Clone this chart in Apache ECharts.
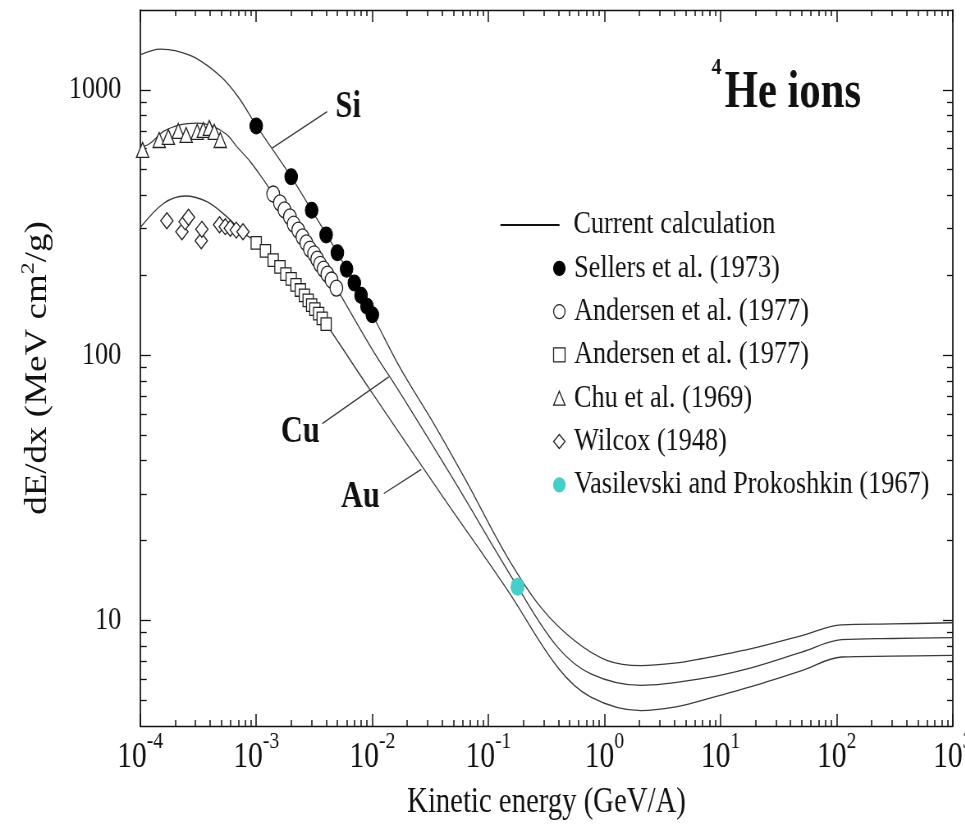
<!DOCTYPE html>
<html>
<head>
<meta charset="utf-8">
<script src="https://cdn.jsdelivr.net/npm/echarts@6/dist/echarts.min.js"></script>
<style>
  html, body { margin: 0; padding: 0; background: #fff; }
  #frame { width: 965px; height: 827px; overflow: hidden; position: relative; background: #fff; }
  #chart { position: absolute; left: 0; top: 0; height: 827px; transform-origin: 0 0; }
</style>
</head>
<body>
<div id="frame"><div id="chart"></div></div>
<script>
// ---------- axis ticks ----------
const xMajorTicks = [1e-4, 1e-3, 1e-2, 1e-1, 1, 10, 100, 1000];
const yMajorTicks = [10, 100, 1000];
const minorMultipliers = [2, 3, 4, 5, 6, 7, 8, 9];

// ---------- calculated stopping power curves (GeV/A, MeV cm^2/g) ----------
const siEnergy = [1e-4, 1.5e-4, 2e-4, 3e-4, 5e-4, 7e-4, 1e-3, 2e-3, 3e-3, 5e-3, 7e-3, 1e-2,
  0.0175, 0.034, 0.064, 0.146, 0.283, 0.55, 1.06, 2.06, 4.0, 6.8, 18, 50, 110, 300, 1000];
const siDEdx = [1355, 1425, 1405, 1320, 1118, 940, 735, 470, 352, 243, 187, 142,
  89, 55, 33.7, 17.3, 11.2, 8.4, 7.06, 6.76, 6.9, 7.17, 7.81, 8.77, 9.62, 9.7, 9.8];

const cuEnergy = [1e-4, 1.22e-4, 1.59e-4, 2.21e-4, 3.08e-4, 4.29e-4, 5.6e-4, 6.8e-4, 8.9e-4, 1.16e-3,
  1.4e-3, 2e-3, 3e-3, 4e-3, 4.9e-3, 1e-2, 0.0175, 0.0505, 0.178, 0.394, 0.763, 2.06, 6.8, 18.3, 50, 110, 300, 1000];
const cuDEdx = [604, 629, 697, 738, 749, 727, 677, 611, 536, 457,
  405, 327, 247, 205, 179, 105, 71.6, 33.7, 13.4, 7.93, 6.29, 5.69, 6.03, 6.63, 7.6, 8.46, 8.55, 8.61];

const auEnergy = [1e-4, 1.59e-4, 2.44e-4, 3.76e-4, 5.6e-4, 7.8e-4, 1e-3, 1.4e-3, 2e-3, 3e-3, 4e-3,
  9.6e-3, 0.04, 0.146, 0.394, 0.763, 2.06, 4.0, 6.8, 18.3, 50, 110, 300, 1000];
const auDEdx = [302, 373, 398, 379, 332, 288, 267, 228, 194, 155, 131,
  73.8, 29.5, 13.0, 6.66, 5.14, 4.57, 4.71, 4.99, 5.63, 6.47, 7.28, 7.33, 7.38];

// ---------- measurements ----------
const sellersEnergy = [1e-3, 2e-3, 3e-3, 4e-3, 5e-3, 6e-3, 7e-3, 8e-3, 9e-3, 1e-2];
const sellersDEdx = [731, 470, 352, 284, 243, 211, 187, 168, 153, 142];

const andersenCuEnergy = [1.4e-3, 1.6e-3, 1.75e-3, 1.95e-3, 2.1e-3, 2.3e-3, 2.5e-3, 2.7e-3,
  2.9e-3, 3.15e-3, 3.35e-3, 3.55e-3, 3.8e-3, 4.1e-3, 4.45e-3, 4.9e-3];
const andersenCuDEdx = [405, 375, 353, 332, 312, 296, 279, 265, 251, 241, 230, 220, 211, 202, 192, 179];

const andersenAuEnergy = [1.0e-3, 1.2e-3, 1.4e-3, 1.6e-3, 1.8e-3, 2.0e-3, 2.2e-3, 2.4e-3,
  2.6e-3, 2.8e-3, 3.0e-3, 3.2e-3, 3.45e-3, 3.7e-3, 4.0e-3];
const andersenAuDEdx = [265, 247, 228, 215, 202, 194, 184, 176, 168, 161, 154.5, 149, 143.5, 137.5, 131];

const chuEnergy = [1.05e-4, 1.46e-4, 1.75e-4, 2.13e-4, 2.49e-4, 3.1e-4, 3.5e-4, 3.94e-4, 4.35e-4, 4.9e-4];
const chuDEdx = [594, 647, 665, 700, 676, 695, 706, 719, 695, 647];

const wilcoxEnergy = [1.7e-4, 2.29e-4, 2.44e-4, 2.61e-4, 3.36e-4, 3.4e-4, 4.83e-4, 5.41e-4, 5.98e-4, 6.73e-4, 7.69e-4];
const wilcoxDEdx = [321, 292, 318, 331, 270, 298, 310, 305, 301, 296, 292];

const vasilevskiEnergy = [0.178];
const vasilevskiDEdx = [13.4];

const seriesLabels = {
  calc: 'Current calculation',
  sellers: 'Sellers et al. (1973)',
  andersenCu: 'Andersen et al. (1977)',
  andersenAu: 'Andersen et al. (1977)',
  chu: 'Chu et al. (1969)',
  wilcox: 'Wilcox (1948)',
  vasilevski: 'Vasilevski and Prokoshkin (1967)'
};

// ---------- curve annotations (data coordinates) ----------
const curveTags = [
  { text: 'Si', at: [6.2e-3, 860] },
  { text: 'Cu', at: [2.4e-3, 51] },
  { text: 'Au', at: [7.9e-3, 29] }
];
const tagLeaders = [
  [[1.37e-3, 603], [4.08e-3, 828]],
  [[3.7e-3, 55.2], [0.01387, 82.8]],
  [[0.01256, 30.1], [0.0264, 37.1]]
];

// ---------- layout ----------
// the drawing is laid out wide and then narrowed horizontally by SX
const SX = 0.82;
const W = 965 / SX;
const px = v => v / SX;
const FONT = '"Liberation Serif", "Times New Roman", serif';
const INK = '#111';
const CURVE = '#3a3a3a';

const pairs = (xs, ys) => xs.map((x, i) => [x, ys[i]]);
const minorTicks = (lo, hi) => {
  const out = [];
  for (let e = -5; e <= 4; e++) {
    minorMultipliers.forEach(m => {
      const v = m * Math.pow(10, e);
      if (v > lo * 1.0001 && v < hi * 0.9999) out.push(v);
    });
  }
  return out;
};

const X_MIN = 1e-4, X_MAX = 1e3, Y_MIN = 4, Y_MAX = 2000;

function xAxisDef(position, ticks, len, showLine, withLabels) {
  return {
    type: 'log', logBase: 10, min: X_MIN, max: X_MAX, gridIndex: 0, position: position,
    axisLine: { show: showLine, lineStyle: { color: INK, width: 1.4 } },
    axisTick: { show: true, inside: true, length: len, customValues: ticks,
      lineStyle: { color: INK, width: 1.5 } },
    axisLabel: withLabels ? {
      show: true, customValues: xMajorTicks, margin: 4,
      formatter: v => '{b|10}{s|' + Math.round(Math.log10(v)) + '}',
      rich: {
        b: { fontFamily: FONT, fontSize: 36, lineHeight: 56, color: INK },
        s: { fontFamily: FONT, fontSize: 24, lineHeight: 24, color: INK, verticalAlign: 'top' }
      }
    } : { show: false },
    splitLine: { show: false },
    minorTick: { show: false }, minorSplitLine: { show: false }
  };
}

function yAxisDef(position, ticks, len, showLine, withLabels) {
  return {
    type: 'log', logBase: 10, min: Y_MIN, max: Y_MAX, gridIndex: 0, position: position,
    axisLine: { show: showLine, lineStyle: { color: INK, width: 1.7 } },
    axisTick: { show: true, inside: true, length: len, customValues: ticks,
      lineStyle: { color: INK, width: 1.3 } },
    axisLabel: withLabels ? {
      show: true, customValues: yMajorTicks, margin: 23,
      fontFamily: FONT, fontSize: 32, color: INK,
      formatter: v => String(Math.round(v))
    } : { show: false },
    splitLine: { show: false },
    minorTick: { show: false }, minorSplitLine: { show: false }
  };
}

const xMinor = minorTicks(X_MIN, X_MAX);
const yMinor = minorTicks(Y_MIN, Y_MAX);

const xAxes = [
  xAxisDef('bottom', xMajorTicks, 12, true, true),
  xAxisDef('bottom', xMinor, 6, false, false),
  xAxisDef('top', xMajorTicks, 12, true, false),
  xAxisDef('top', xMinor, 6, false, false)
];
Object.assign(xAxes[0], {
  name: 'Kinetic energy (GeV/A)', nameLocation: 'middle', nameGap: 59,
  nameTextStyle: { fontFamily: FONT, fontSize: 35, color: INK }
});

const yAxes = [
  yAxisDef('left', yMajorTicks, 13, true, true),
  yAxisDef('left', yMinor, 8, false, false),
  yAxisDef('right', yMajorTicks, 12, true, false),
  yAxisDef('right', yMinor, 7, false, false)
];
Object.assign(yAxes[0], {
  name: '{t|dE/dx (MeV cm}{s|2}{t|/g)}', nameLocation: 'middle', nameGap: 100, nameRotate: 90,
  nameTextStyle: {
    rich: {
      t: { fontFamily: FONT, fontSize: 37, lineHeight: 48, color: INK },
      s: { fontFamily: FONT, fontSize: 24, lineHeight: 24, color: INK, verticalAlign: 'top' }
    }
  }
});

function curveSeries(xs, ys, extra) {
  return Object.assign({
    name: 'calc', type: 'line', xAxisIndex: 0, yAxisIndex: 0,
    data: pairs(xs, ys), symbol: 'none', showSymbol: false,
    smooth: 0.35,
    lineStyle: { color: CURVE, width: 1.3 }, itemStyle: { color: CURVE },
    z: 2, silent: true
  }, extra || {});
}

function pointSeries(name, xs, ys, symbol, size, fill, stroke, bw) {
  return {
    name: name, type: 'scatter', xAxisIndex: 0, yAxisIndex: 0,
    data: pairs(xs, ys), symbol: symbol, symbolSize: size,
    itemStyle: { color: fill, borderColor: stroke, borderWidth: bw, opacity: 1 },
    z: 5, silent: true
  };
}

const chart = echarts.init(document.getElementById('chart'), null, {
  renderer: 'canvas', width: W, height: 827
});
document.getElementById('chart').style.width = W + 'px';
document.getElementById('chart').style.transform = 'scaleX(' + SX + ')';

const option = {
  animation: false,
  backgroundColor: '#fff',
  title: {
    text: '{s|4}{b|He ions}',
    left: px(711), top: 56, padding: 0,
    textStyle: {
      rich: {
        s: { fontFamily: FONT, fontWeight: 'bold', fontSize: 24, lineHeight: 24, color: INK,
             verticalAlign: 'top', padding: [0, 4, 0, 0] },
        b: { fontFamily: FONT, fontWeight: 'bold', fontSize: 52, lineHeight: 76, color: INK }
      }
    }
  },
  grid: {
    left: px(140), right: W - px(952), top: 10, bottom: 827 - 726,
    containLabel: false, outerBoundsMode: 'none'
  },
  legend: [
    {
      data: [{ name: 'calc', icon: 'rect' }], orient: 'vertical', left: px(500), top: 225 - 18, padding: 0,
      itemWidth: px(59), itemHeight: 2, selectedMode: false,
      formatter: n => seriesLabels[n],
      itemStyle: { color: INK, borderWidth: 0 },
      textStyle: { fontFamily: FONT, fontSize: 32, lineHeight: 36, color: INK, padding: [0, 0, 0, 12] },
      lineStyle: { color: INK, width: 1.5 }
    },
    {
      data: ['sellers', 'andersenCu', 'andersenAu', 'chu', 'wilcox', 'vasilevski'],
      orient: 'vertical', left: px(558.3) - 7, top: 268.3 - 18, padding: 0,
      itemWidth: 14, itemHeight: 14, itemGap: 7.3, selectedMode: false,
      formatter: n => seriesLabels[n],
      itemStyle: { borderWidth: 1.3 },
      textStyle: { fontFamily: FONT, fontSize: 32, lineHeight: 36, color: INK, padding: [0, 0, 0, 6] }
    }
  ],
  xAxis: xAxes,
  yAxis: yAxes,
  series: [
    curveSeries(siEnergy, siDEdx, {
      markLine: {
        silent: true, symbol: ['none', 'none'], label: { show: false },
        lineStyle: { color: CURVE, width: 1.3, type: 'solid' },
        emphasis: { disabled: true },
        data: tagLeaders.map(([a, b]) => [{ coord: a }, { coord: b }])
      },
      markPoint: {
        silent: true, symbol: 'circle', symbolSize: 1,
        itemStyle: { color: 'rgba(0,0,0,0)' },
        label: { show: true, position: 'inside', formatter: p => p.name,
          fontFamily: FONT, fontWeight: 'bold', fontSize: 37, color: INK },
        data: curveTags.map(t => ({ name: t.text, coord: t.at }))
      }
    }),
    curveSeries(cuEnergy, cuDEdx),
    curveSeries(auEnergy, auDEdx),
    pointSeries('sellers', sellersEnergy, sellersDEdx, 'circle', [15.5, 16], '#000', '#000', 1),
    pointSeries('andersenCu', andersenCuEnergy, andersenCuDEdx, 'circle', [15.5, 16], '#fff', '#222', 1.3),
    pointSeries('andersenAu', andersenAuEnergy, andersenAuDEdx, 'rect', [12.5, 12.5], '#fff', '#222', 1.3),
    pointSeries('chu', chuEnergy, chuDEdx, 'triangle', [15, 15], '#fff', '#222', 1.3),
    pointSeries('wilcox', wilcoxEnergy, wilcoxDEdx, 'diamond', [15, 16], '#fff', '#222', 1.3),
    pointSeries('vasilevski', vasilevskiEnergy, vasilevskiDEdx, 'circle', [16, 17], '#45cfc9', '#45cfc9', 1)
  ]
};

chart.setOption(option);
</script>
</body>
</html>
